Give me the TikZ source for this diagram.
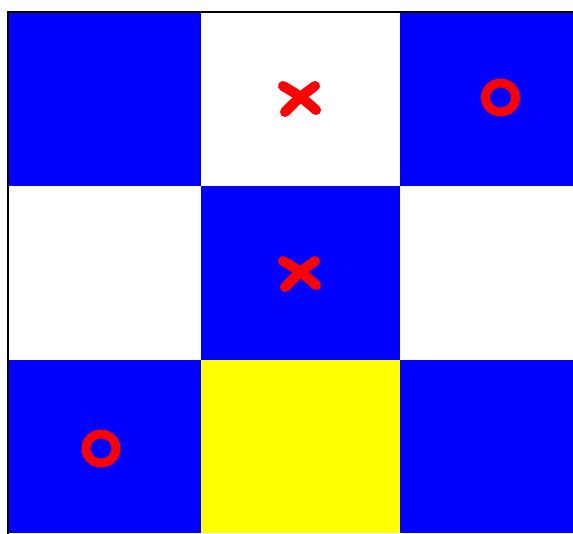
\documentclass[tikz,border=0pt]{standalone}
\definecolor{cellblue}{RGB}{0,0,255}
\definecolor{cellyellow}{RGB}{255,255,0}
\definecolor{markred}{RGB}{255,0,0}
\begin{document}
\begin{tikzpicture}[x=1pt,y=-1pt,
  xstroke/.style={draw=markred,line width=10pt,line cap=round,line join=round},
  ring/.style={draw=markred,line width=9pt}]
\useasboundingbox (0,0) rectangle (573,533);
\fill[white] (0,0) rectangle (573,533);
% row 1
\fill[cellblue] (8,12) rectangle (201,186);
\fill[white] (201,12) rectangle (400,186);
\fill[cellblue] (400,12) rectangle (573,186);
% row 2
\fill[white] (8,186) rectangle (201,360);
\fill[cellblue] (201,186) rectangle (400,360);
\fill[white] (400,186) rectangle (573,360);
% row 3
\fill[cellblue] (8,360) rectangle (201,533);
\fill[cellyellow] (201,360) rectangle (400,533);
\fill[cellblue] (400,360) rectangle (573,533);
% border
\draw[black,line width=2pt] (8,540) -- (8,12) -- (580,12);
% X marks
\draw[xstroke] (283,86) .. controls (300,96) .. (316,110);
\draw[xstroke] (315,86) .. controls (300,97) .. (285,112);
\draw[xstroke] (283,261) .. controls (300,271) .. (316,285);
\draw[xstroke] (315,261) .. controls (300,272) .. (285,287);
% O marks
\draw[ring] (500.5,97.5) ellipse [x radius=15, y radius=14.5];
\draw[ring] (101,448.5) ellipse [x radius=15, y radius=14.5];
\end{tikzpicture}
\end{document}
